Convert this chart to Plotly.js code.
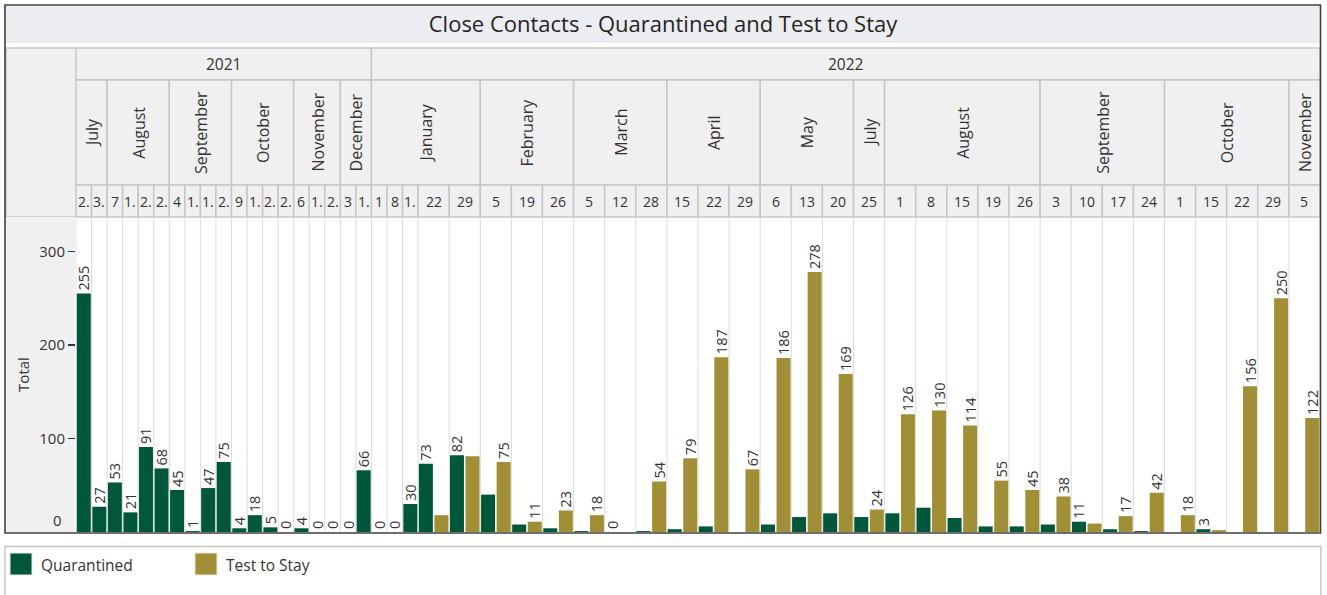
<!DOCTYPE html>
<html>
<head>
<meta charset="utf-8">
<script src="https://cdn.plot.ly/plotly-3.0.1.min.js"></script>
<style>
html,body{margin:0;padding:0;background:#ffffff;}
#chart{width:1327px;height:595px;}
</style>
</head>
<body>
<div id="chart"></div>
<script>
// ---------------- DATA ----------------
const years = [
  "2021","2021","2021","2021","2021","2021","2021","2021","2021","2021",
  "2021","2021","2021","2021","2021","2021","2021","2021","2021",
  "2022","2022","2022","2022","2022","2022","2022","2022","2022","2022",
  "2022","2022","2022","2022","2022","2022","2022","2022","2022","2022",
  "2022","2022","2022","2022","2022","2022","2022","2022","2022","2022",
  "2022","2022"
];
const months = [
  "July","July","August","August","August","August",
  "September","September","September","September",
  "October","October","October","October",
  "November","November","November","December","December",
  "January","January","January","January","January",
  "February","February","February","March","March","March",
  "April","April","April","May","May","May","July",
  "August","August","August","August","August",
  "September","September","September","September",
  "October","October","October","October","November"
];
const days = [
  "2.","3.","7","1.","2.","2.","4","1.","1.","2.","9","1.","2.","2.","6","1.","2.","3","1.",
  "1","8","1.","22","29","5","19","26","5","12","28","15","22","29","6","13","20","25",
  "1","8","15","19","26","3","10","17","24","1","15","22","29","5"
];
const quarantined = [
  255,27,53,21,91,68,45,1,47,75,4,18,5,0,4,0,0,0,66,
  0,0,30,73,82, 40,8,4, 1,0,1, 3,6,0, 8,16,20, 16,
  20,26,15,6,6, 8,11,3,1, 0,3,0,0, 0
];
const testToStay = [
  null,null,null,null,null,null,null,null,null,null,
  null,null,null,null,null,null,null,null,null,
  null,null,null,18,81, 75,11,23, 18,0,54, 79,187,67, 186,278,169, 24,
  126,130,114,55,45, 38,9,17,42, 18,2,156,250, 122
];
// which series' data label is displayed in each column ("Q" or "T")
const labelShown = [
  "Q","Q","Q","Q","Q","Q","Q","Q","Q","Q","Q","Q","Q","Q","Q","Q","Q","Q","Q",
  "Q","Q","Q","Q","Q", "T","T","T", "T","Q","T", "T","T","T", "T","T","T", "T",
  "T","T","T","T","T", "T","Q","T","T", "T","Q","T","T", "T"
];
const seriesNames = ["Quarantined", "Test to Stay"];
const seriesColors = ["#01573c", "#a08f35"];
const chartTitle = "Close Contacts - Quarantined and Test to Stay";
const yTicks = [100, 200, 300];

// ---------------- GEOMETRY HELPERS ----------------
const W = 1327, H = 595;
const PL = 76, PR = 1320, PT = 217, PB = 532;
const PW = PR - PL, PH = PB - PT;
const px = p => (p - PL) / PW;       // pixel x -> paper x
const py = p => (PB - p) / PH;       // pixel y -> paper y
const FONT = "'Segoe UI', 'Open Sans', sans-serif";
const TXT = "#333333";

// slot layout: each non-blank series value takes one slot
const colStart = [], colEnd = [];
let s = 0;
for (let i = 0; i < days.length; i++) {
  colStart.push(s);
  s += (quarantined[i] !== null ? 1 : 0) + (testToStay[i] !== null ? 1 : 0);
  colEnd.push(s);
}
const totalSlots = s;

const qx = [], qy = [], qt = [], tx = [], ty = [], tt = [];
for (let i = 0; i < days.length; i++) {
  let k = colStart[i];
  if (quarantined[i] !== null) {
    qx.push(k + 0.5); qy.push(quarantined[i]);
    qt.push(labelShown[i] === "Q" ? String(quarantined[i]) : "");
    k++;
  }
  if (testToStay[i] !== null) {
    tx.push(k + 0.5); ty.push(testToStay[i]);
    tt.push(labelShown[i] === "T" ? String(testToStay[i]) : "");
  }
}

const barCommon = {
  type: "bar", width: 0.9, textposition: "outside", textangle: -90,
  cliponaxis: false, constraintext: "none", showlegend: false,
  textfont: {family: FONT, size: 14.5, color: TXT}
};
const traces = [
  Object.assign({}, barCommon, {name: seriesNames[0], x: qx, y: qy, text: qt,
    marker: {color: seriesColors[0], line: {width: 0}}}),
  Object.assign({}, barCommon, {name: seriesNames[1], x: tx, y: ty, text: tt,
    marker: {color: seriesColors[1], line: {width: 0}}})
];

// ---------------- SHAPES & ANNOTATIONS ----------------
const shapes = [], annotations = [];
const HDR_FILL = "#f0f0f0", HDR_LINE = "#c6c6c6";

// title bar
shapes.push({type: "rect", xref: "paper", yref: "paper", x0: px(6), x1: px(1319.5), y0: py(43), y1: py(6),
  fillcolor: "#ebedf0", line: {width: 0}, layer: "below"});
// left header block and axis area
shapes.push({type: "rect", xref: "paper", yref: "paper", x0: px(6), x1: px(76), y0: py(217), y1: py(48),
  fillcolor: HDR_FILL, line: {color: HDR_LINE, width: 1.5}, layer: "below"});
shapes.push({type: "rect", xref: "paper", yref: "paper", x0: px(6), x1: px(75.5), y0: py(532), y1: py(217),
  fillcolor: HDR_FILL, line: {width: 0}, layer: "below"});

function runs(keyFn) {
  const out = [];
  for (let i = 0; i < days.length; i++) {
    const k = keyFn(i);
    if (out.length && out[out.length - 1].key === k) out[out.length - 1].end = colEnd[i];
    else out.push({key: k, start: colStart[i], end: colEnd[i], i: i});
  }
  return out;
}
function cell(x0, x1, top, bottom) {
  shapes.push({type: "rect", xref: "x", yref: "paper", x0: x0, x1: x1, y0: py(bottom), y1: py(top),
    fillcolor: HDR_FILL, line: {color: HDR_LINE, width: 1.5}, layer: "below"});
}
// year row
runs(i => years[i]).forEach(r => {
  cell(r.start, r.end, 48, 80);
  annotations.push({xref: "x", yref: "paper", x: (r.start + r.end) / 2, y: py(64), text: years[r.i],
    showarrow: false, xanchor: "center", yanchor: "middle", font: {family: FONT, size: 15.5, color: TXT}});
});
// month row
runs(i => years[i] + "|" + months[i]).forEach(r => {
  cell(r.start, r.end, 80, 185);
  annotations.push({xref: "x", yref: "paper", x: (r.start + r.end) / 2, y: py(132.5), text: months[r.i],
    textangle: -90, showarrow: false, xanchor: "center", yanchor: "middle",
    font: {family: FONT, size: 16, color: TXT}});
});
// day row + grid lines
for (let i = 0; i < days.length; i++) {
  cell(colStart[i], colEnd[i], 185, 217);
  annotations.push({xref: "x", yref: "paper", x: (colStart[i] + colEnd[i]) / 2, y: py(201), text: days[i],
    showarrow: false, xanchor: "center", yanchor: "middle", font: {family: FONT, size: 14, color: TXT}});
  shapes.push({type: "line", xref: "x", yref: "paper", x0: colStart[i], x1: colStart[i], y0: 0, y1: 1,
    line: {color: "#dcdcdc", width: 1}, layer: "below"});
}
shapes.push({type: "line", xref: "x", yref: "paper", x0: totalSlots, x1: totalSlots, y0: 0, y1: 1,
  line: {color: "#dcdcdc", width: 1}, layer: "below"});

// outer frame
shapes.push({type: "rect", xref: "paper", yref: "paper", x0: px(5), x1: px(1320.5), y0: py(533), y1: py(5),
  line: {color: "#3f3f3f", width: 1.6}, fillcolor: "rgba(0,0,0,0)", layer: "above"});

// zero tick label (drawn inside, as in the reference)
annotations.push({xref: "paper", yref: "paper", x: px(64), y: py(520), text: "0", showarrow: false,
  xanchor: "right", yanchor: "middle", font: {family: FONT, size: 15, color: TXT}});

// legend box
shapes.push({type: "rect", xref: "paper", yref: "paper", x0: px(5), x1: px(1321), y0: py(610), y1: py(546.5),
  line: {color: "#c9c6bd", width: 1.5}, fillcolor: "#ffffff", layer: "below"});
const legendX = [10, 195];
seriesNames.forEach((n, k) => {
  shapes.push({type: "rect", xref: "paper", yref: "paper", x0: px(legendX[k]), x1: px(legendX[k] + 22),
    y0: py(575), y1: py(553), fillcolor: seriesColors[k], line: {color: "#e6e6e6", width: 1}, layer: "above"});
  annotations.push({xref: "paper", yref: "paper", x: px(legendX[k] + 29), y: py(564.5), text: n,
    showarrow: false, xanchor: "left", yanchor: "middle", font: {family: FONT, size: 15.5, color: TXT}});
});

// ---------------- LAYOUT ----------------
const layout = {
  width: W, height: H,
  margin: {l: PL, r: W - PR, t: PT, b: H - PB, pad: 0},
  paper_bgcolor: "#ffffff",
  plot_bgcolor: "rgba(0,0,0,0)",
  barmode: "overlay",
  showlegend: false,
  title: {text: chartTitle, xref: "container", yref: "container", x: 663 / W, y: 1 - 24.5 / H,
    xanchor: "center", yanchor: "middle", font: {family: FONT, size: 22, color: "#252423"}},
  xaxis: {range: [0, totalSlots], showticklabels: false, showgrid: false, zeroline: false,
    showline: false, ticks: "", fixedrange: true},
  yaxis: {range: [0, PH / 0.935], tickvals: yTicks, ticktext: yTicks.map(String), ticks: "outside",
    ticklen: 7, tickwidth: 1.5, tickcolor: "#333333", showgrid: false, zeroline: false, showline: false,
    tickfont: {family: FONT, size: 15, color: TXT}, fixedrange: true,
    title: {text: "Total", standoff: 6, font: {family: FONT, size: 15, color: TXT}}},
  shapes: shapes,
  annotations: annotations,
  font: {family: FONT}
};

Plotly.newPlot("chart", traces, layout, {displayModeBar: false, staticPlot: true});
</script>
</body>
</html>
